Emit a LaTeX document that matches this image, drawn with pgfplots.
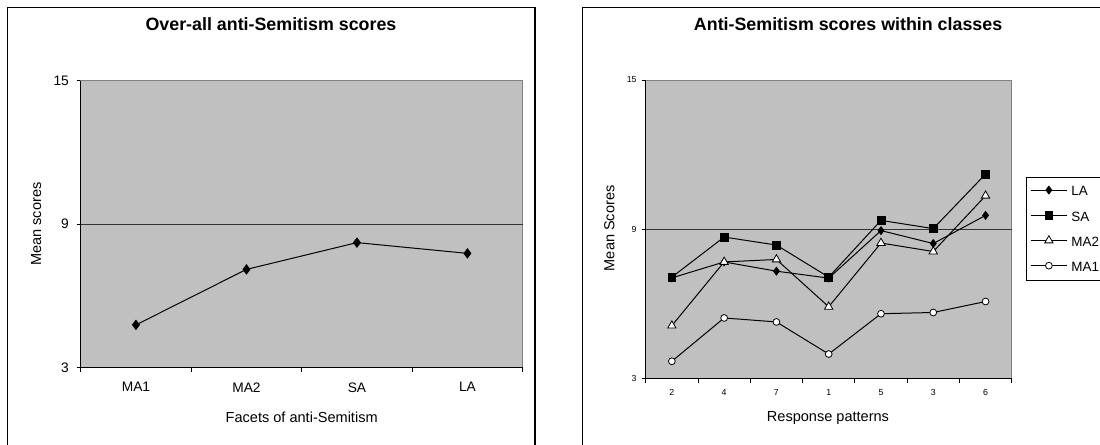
\documentclass[border=0pt]{standalone}
\usepackage{pgfplots}
\pgfplotsset{compat=1.18}
\usepackage{fontspec}
\setmainfont{Liberation Sans}
\definecolor{plotbg}{HTML}{C0C0C0}
\definecolor{plotborder}{HTML}{808080}

\pgfplotsset{
  excel/.style={
    scale only axis,
    axis background/.style={fill=plotbg},
    axis line style={draw=plotborder, line width=0.8bp},
    after end axis/.code={
      \draw[black, line width=1bp] (rel axis cs:0,1) -- (rel axis cs:0,0) -- (rel axis cs:1,0);
    },
    ymin=3, ymax=15,
    ytick={3,15},
    extra y ticks={9},
    extra y tick style={grid=major},
    grid style={black!80, line width=0.7bp},
    tick align=outside,
    xtick pos=bottom, ytick pos=left,
    major tick length=4bp, minor tick length=4bp,
    tick style={black, line width=0.8bp},
    major x tick style={draw=none},
    /pgf/number format/assume math mode=true,
    yticklabel style={anchor=east, inner sep=0pt},
    xticklabel style={anchor=north, inner sep=0pt},
    xlabel style={anchor=center, text depth=0pt, inner sep=0pt},
    ylabel style={anchor=center, text depth=0pt, inner sep=0pt},
    title style={anchor=center, text depth=0pt, inner sep=0pt, font=\bfseries\fontsize{17.9}{20}\selectfont},
    label style={font=\fontsize{14.6}{17}\selectfont},
  },
}

\begin{document}
\begin{tikzpicture}
\path[use as bounding box] (0,0) rectangle (1100bp,445bp);
\draw[line width=1.1bp] (7.3bp,-20bp) -- (7.3bp,437.7bp) -- (535bp,437.7bp) -- (535bp,-20bp);
\draw[line width=1.1bp] (582.3bp,-20bp) -- (582.3bp,437.7bp) -- (1130bp,437.7bp);

% Left chart
\begin{axis}[excel,
  at={(80.7bp,77.3bp)}, anchor=south west,
  width=442bp, height=287bp,
  xmin=0.5, xmax=4.5,
  xtick={1,2,3,4},
  xticklabels={MA1,MA2,SA,LA},
  minor xtick={0.5,1.5,2.5,3.5,4.5},
  ticklabel style={font=\fontsize{13.8}{16}\selectfont},
  yticklabel style={xshift=-7.7bp},
  xticklabel style={yshift=-10.5bp},
  title={Over-all anti-Semitism scores},
  title style={at={(axis description cs:0.4305,1.175)}},
  xlabel={Facets of anti-Semitism},
  xlabel style={at={(axis description cs:0.5,-0.172)}},
  ylabel={Mean scores},
  ylabel style={at={(axis description cs:-0.1011,0.5)}},
]
\addplot[black, line width=1bp, mark=diamond*, mark size=4.5bp, mark options={solid, fill=black}]
  coordinates {(1,4.79) (2,7.11) (3,8.23) (4,7.78)};
\end{axis}

% Right chart
\begin{axis}[excel,
  at={(645.7bp,66.3bp)}, anchor=south west,
  width=366bp, height=298.7bp,
  xmin=0.5, xmax=7.5,
  xtick={1,2,3,4,5,6,7},
  xticklabels={2,4,7,1,5,3,6},
  minor xtick={0.5,1.5,2.5,3.5,4.5,5.5,6.5,7.5},
  ticklabel style={font=\fontsize{8.8}{10}\selectfont},
  yticklabel style={xshift=-5bp},
  xticklabel style={yshift=-6.5bp},
  title={Anti-Semitism scores within classes},
  title style={at={(axis description cs:0.553,1.167)}},
  xlabel={Response patterns},
  xlabel style={at={(axis description cs:0.498,-0.128)}},
  ylabel={Mean Scores},
  ylabel style={at={(axis description cs:-0.0995,0.5035)}},
  legend style={at={(axis description cs:1.039,0.6743)}, anchor=north west,
    draw=black, line width=0.8bp, fill=white,
    font=\fontsize{13.5}{16}\selectfont,
    inner xsep=4bp, inner ysep=1bp, row sep=0pt,
    nodes={inner sep=0pt, text height=17.2bp, text depth=8bp}},
  legend cell align=left,
  legend image code/.code={
    \draw[#1, mark repeat=2, mark phase=2, line width=1bp] plot coordinates {(0bp,1.2bp) (18bp,1.2bp) (36bp,1.2bp)};
    \path (40bp,1.2bp);
  },
]
\addplot[black, line width=1bp, mark=diamond*, mark size=4bp, mark options={solid, fill=black, line width=0.7bp}]
  coordinates {(1,7.05) (2,7.69) (3,7.32) (4,7.04) (5,8.95) (6,8.43) (7,9.56)};
\addlegendentry{LA}
\addplot[black, line width=1bp, mark=square*, mark size=3.9bp, mark options={solid, fill=black, line width=0.7bp}]
  coordinates {(1,7.08) (2,8.69) (3,8.37) (4,7.08) (5,9.36) (6,9.03) (7,11.22)};
\addlegendentry{SA}
\addplot[black, line width=1bp, mark=triangle*, mark size=4.8bp, mark options={solid, fill=white, line width=0.8bp}]
  coordinates {(1,5.13) (2,7.69) (3,7.79) (4,5.89) (5,8.45) (6,8.11) (7,10.35)};
\addlegendentry{MA2}
\addplot[black, line width=1bp, mark=*, mark size=3.4bp, mark options={solid, fill=white, line width=0.8bp}]
  coordinates {(1,3.70) (2,5.44) (3,5.28) (4,3.99) (5,5.61) (6,5.66) (7,6.10)};
\addlegendentry{MA1}
\end{axis}
\end{tikzpicture}
\end{document}
